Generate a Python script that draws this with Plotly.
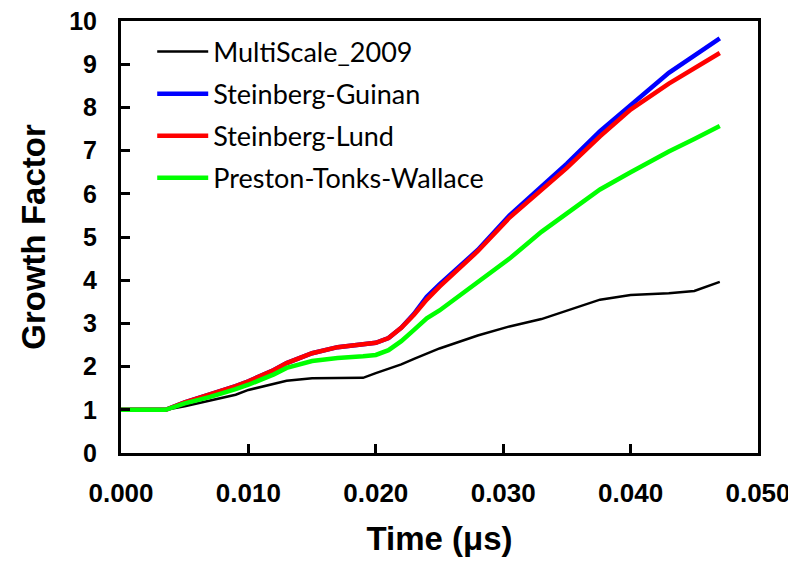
import plotly.graph_objects as go

time_us = [0.0, 0.002, 0.0035, 0.005, 0.007, 0.009, 0.010, 0.012, 0.013, 0.015, 0.017,
           0.019, 0.020, 0.021, 0.022, 0.023, 0.024, 0.025, 0.028, 0.0305, 0.033, 0.035,
           0.0376, 0.040, 0.043, 0.045, 0.047]

multiscale = [1, 1, 1, 1.08, 1.22, 1.35, 1.46, 1.6, 1.67, 1.73, 1.73, 1.74, 1.85, 1.95,
              2.05, 2.18, 2.3, 2.42, 2.72, 2.93, 3.1, 3.3, 3.55, 3.66, 3.7, 3.75, 3.96]
steinberg_guinan = [1, 1, 1, 1.17, 1.35, 1.55, 1.66, 1.92, 2.08, 2.31, 2.45, 2.52, 2.55,
                    2.66, 2.9, 3.22, 3.62, 3.9, 4.7, 5.5, 6.15, 6.7, 7.45, 8.05, 8.8, 9.2, 9.6]
steinberg_lund = [1, 1, 1, 1.17, 1.35, 1.55, 1.66, 1.92, 2.08, 2.31, 2.45, 2.52, 2.55,
                  2.66, 2.9, 3.2, 3.55, 3.85, 4.67, 5.45, 6.08, 6.6, 7.33, 7.95, 8.55, 8.9, 9.26]
ptw = [1, 1, 1, 1.15, 1.3, 1.48, 1.58, 1.82, 1.97, 2.13, 2.2, 2.24, 2.27, 2.38, 2.59,
       2.85, 3.12, 3.3, 3.94, 4.5, 5.12, 5.55, 6.1, 6.5, 6.98, 7.27, 7.57]

series = [
    ("MultiScale_2009", multiscale, "#000000", 2.5),
    ("Steinberg-Guinan", steinberg_guinan, "#0000FF", 4.5),
    ("Steinberg-Lund", steinberg_lund, "#FF0000", 4.5),
    ("Preston-Tonks-Wallace", ptw, "#00FF00", 4.5),
]

fig = go.Figure()
for i, (name, vals, color, w) in enumerate(series):
    fig.add_trace(go.Scatter(x=time_us, y=vals, mode="lines", name=name,
                             legendgroup=f"g{i}",
                             line=dict(color=color, width=w)))

axis_font = dict(family="Liberation Sans, Arial, sans-serif", color="black")

fig.update_layout(
    width=796, height=563,
    margin=dict(l=113, r=46, t=13, b=118, autoexpand=False),
    paper_bgcolor="white", plot_bgcolor="white",
    showlegend=True,
    legend=dict(x=0.049, y=0.985, xanchor="left", yanchor="top",
                bgcolor="rgba(0,0,0,0)", tracegroupgap=4,
                font=dict(family="Lato, sans-serif", size=27, color="black"),
                itemwidth=51),
    xaxis=dict(range=[0, 0.05], tickvals=[0, 0.01, 0.02, 0.03, 0.04, 0.05],
               ticktext=["0.000", "0.010", "0.020", "0.030", "0.040", "0.050"],
               automargin=False, ticklabeloverflow="allow",
               showgrid=False, zeroline=False, showline=True, linecolor="black",
               linewidth=3, mirror=True, ticks="inside", ticklen=9, tickwidth=3,
               tickcolor="black", ticklabelstandoff=15,
               tickfont=dict(size=26, **axis_font, weight="bold"),
               title=dict(text="<b>Time (μs)</b>", standoff=20,
                          font=dict(size=33, **axis_font))),
    yaxis=dict(range=[0, 10], tickvals=list(range(0, 11)),
               automargin=False, ticklabeloverflow="allow",
               showgrid=False, zeroline=False, showline=True, linecolor="black",
               linewidth=3, mirror=True, ticks="inside", ticklen=9, tickwidth=3,
               tickcolor="black", ticklabelstandoff=16,
               tickfont=dict(size=25, **axis_font, weight="bold"),
               title=dict(text="<b>Growth Factor</b>", standoff=14,
                          font=dict(size=33, **axis_font))),
)

fig.write_html("out.html")
